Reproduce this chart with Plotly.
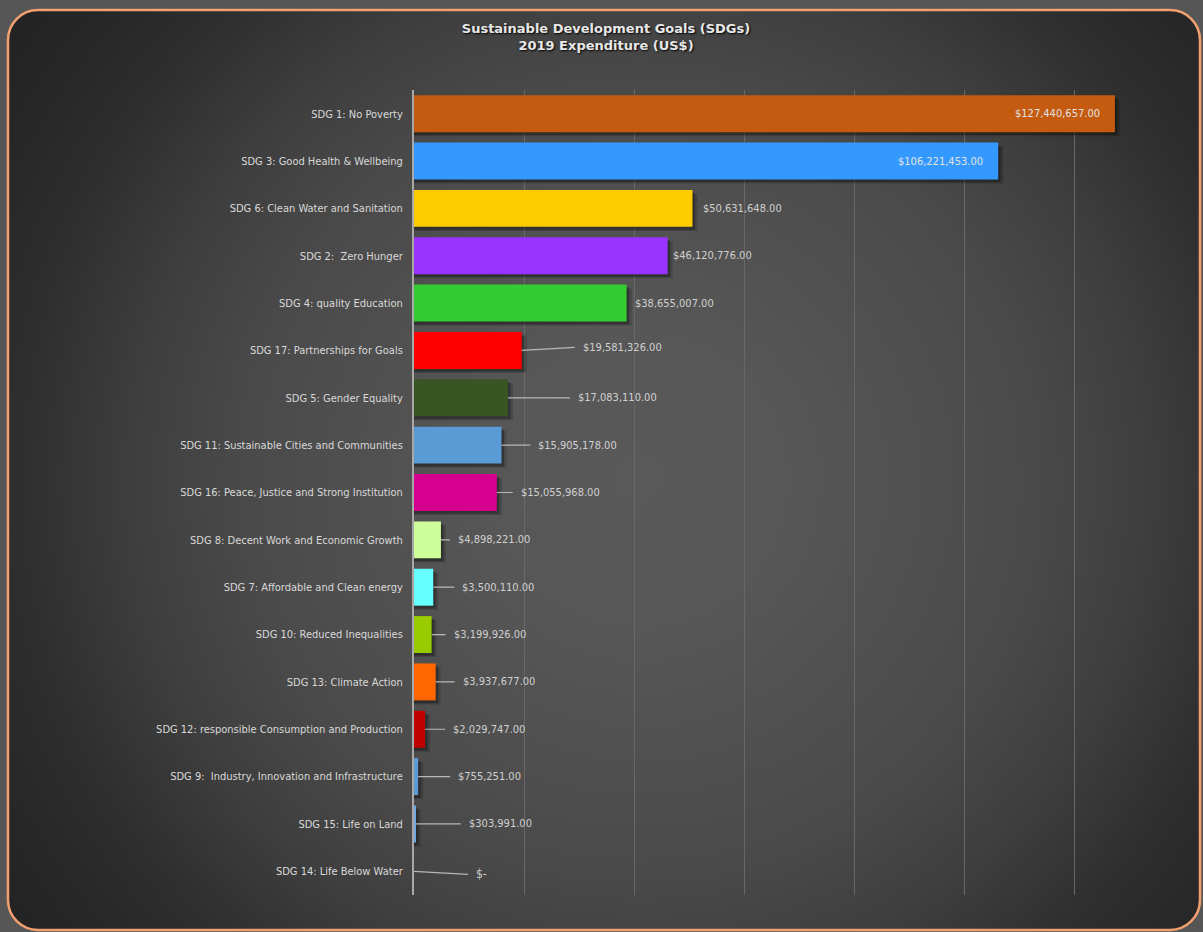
import base64
import plotly.graph_objects as go

# SDG expenditure, 2019 (US$), in display order (top to bottom)
goals = [
    "SDG 1: No Poverty",
    "SDG 3: Good Health & Wellbeing",
    "SDG 6: Clean Water and Sanitation",
    "SDG 2:\u00a0 Zero Hunger",
    "SDG 4: quality Education",
    "SDG 17: Partnerships for Goals",
    "SDG 5: Gender Equality",
    "SDG 11: Sustainable Cities and Communities",
    "SDG 16: Peace, Justice and Strong Institution",
    "SDG 8: Decent Work and Economic Growth",
    "SDG 7: Affordable and Clean energy",
    "SDG 10: Reduced Inequalities",
    "SDG 13: Climate Action",
    "SDG 12: responsible Consumption and Production",
    "SDG 9:\u00a0 Industry, Innovation and Infrastructure",
    "SDG 15: Life on Land",
    "SDG 14: Life Below Water",
]
expenditure = [
    127440657, 106221453, 50631648, 46120776, 38655007, 19581326,
    17083110, 15905178, 15055968, 4898221, 3500110, 3199926,
    3937677, 2029747, 755251, 303991, 0,
]
bar_colors = [
    "#c55a11", "#3399ff", "#ffcc00", "#9933ff", "#33cc33", "#ff0000",
    "#375623", "#5b9bd5", "#d6008f", "#ccff99", "#66ffff", "#99cc00",
    "#ff6600", "#c00000", "#5b9bd5", "#6fa8dc", "#5b9bd5",
]

# label placement: "in" = inside bar end, "near" = just past the bar, "lead" = leader line
label_style = ["in", "in", "near", "near", "near", "lead", "lead", "lead", "lead",
               "lead", "lead", "lead", "lead", "lead", "lead", "lead", "lead"]
label_dx = [-13, -13, 9, 3, 6, 53, 62, 29, 16, 9, 21, 14, 19, 20, 32, 45, 54]
label_dy = [0, 0, 0, 0, 0, -3, 0, 0, 0, 0, 0, 0, 0, 0, 0, 0, 3]

W, H = 1203, 932
ML, MR, MT, MB = 414, 19, 90, 37
PW, PH = W - ML - MR, H - MT - MB

NARROW = "Liberation Sans Narrow, Arial Narrow, DejaVu Sans Condensed, sans-serif"


def money(v):
    return "$-" if v == 0 else "${:,.2f}".format(v)


# background panel: radial shading inside a rounded orange frame
svg = f"""<svg xmlns='http://www.w3.org/2000/svg' width='{W}' height='{H}' viewBox='0 0 {W} {H}'>
<defs>
<radialGradient id='g' gradientUnits='userSpaceOnUse' cx='640' cy='480' r='820'>
<stop offset='0' stop-color='#595959'/>
<stop offset='0.18' stop-color='#575757'/>
<stop offset='0.48' stop-color='#4a4a4a'/>
<stop offset='0.62' stop-color='#3e3e3e'/>
<stop offset='0.76' stop-color='#2e2e2e'/>
<stop offset='0.86' stop-color='#272727'/>
<stop offset='1' stop-color='#202020'/>
</radialGradient>
</defs>
<rect x='0' y='0' width='{W}' height='{H}' fill='#565656'/>
<rect x='8' y='10' width='1192' height='920' rx='30' ry='30' fill='url(#g)' stroke='#f2a070' stroke-width='2.5'/>
</svg>"""
bg_uri = "data:image/svg+xml;base64," + base64.b64encode(svg.encode()).decode()

fig = go.Figure()

# soft drop shadow behind each bar (two layers for a blurred edge)
for ext, shift, alpha in [(900000, 0.085, 0.16), (450000, 0.06, 0.28)]:
    fig.add_trace(go.Bar(
        x=[v + ext if v > 0 else None for v in expenditure], y=goals, orientation="h",
        width=0.78, offset=-0.39 + shift,
        marker=dict(color=f"rgba(0,0,0,{alpha})", line=dict(width=0)),
        hoverinfo="skip", showlegend=False,
    ))
fig.add_trace(go.Bar(
    x=expenditure, y=goals, orientation="h",
    width=0.78, offset=-0.39,
    marker=dict(color=bar_colors, line=dict(width=0)),
    showlegend=False,
))

label_font = dict(family=NARROW, size=11, color="#d0d0d0")
annotations = []
for g, v, st, dx, dy in zip(goals, expenditure, label_style, label_dx, label_dy):
    if st == "in":
        annotations.append(dict(x=v, y=g, xref="x", yref="y", text=money(v),
                                showarrow=False, xanchor="right", xshift=dx,
                                font=dict(label_font, color="#e2e2e2")))
    elif st == "near":
        annotations.append(dict(x=v, y=g, xref="x", yref="y", text=money(v),
                                showarrow=False, xanchor="left", xshift=dx,
                                font=label_font))
    else:
        annotations.append(dict(x=v, y=g, xref="x", yref="y", text=money(v),
                                showarrow=True, arrowhead=0, arrowwidth=1.2,
                                arrowcolor="#b8b8b8", ax=dx, ay=dy,
                                xanchor="left", yanchor="middle", borderpad=7,
                                font=dict(label_font, size=12 if v == 0 else 11)))

fig.update_layout(
    width=W, height=H,
    margin=dict(l=ML, r=MR, t=MT, b=MB, pad=0),
    paper_bgcolor="#565656",
    plot_bgcolor="rgba(0,0,0,0)",
    barmode="overlay",
    title=dict(
        text="<b>Sustainable Development Goals (SDGs)<br>2019 Expenditure (US$)</b>",
        x=606 / W, xref="container", xanchor="center",
        y=1 - 33 / H, yref="container", yanchor="top",
        font=dict(family="DejaVu Sans, sans-serif", size=13, color="#e8e8e8",
                  shadow="1px 1px 2px #000000"),
    ),
    xaxis=dict(range=[0, 140e6], dtick=20e6, showticklabels=False,
               showgrid=True, gridcolor="#686868", gridwidth=1,
               zeroline=False, showline=False, fixedrange=True),
    yaxis=dict(autorange="reversed", showgrid=False, zeroline=False,
               showline=True, linecolor="#a8a8a8", linewidth=2,
               ticks="", ticklabelstandoff=7,
               tickfont=dict(family=NARROW, size=11, color="#d9d9d9")),
    annotations=annotations,
    images=[dict(source=bg_uri, xref="paper", yref="paper",
                 x=-ML / PW, y=1 + MT / PH, sizex=W / PW, sizey=H / PH,
                 xanchor="left", yanchor="top", sizing="stretch", layer="below")],
)

fig.write_html("out.html")
